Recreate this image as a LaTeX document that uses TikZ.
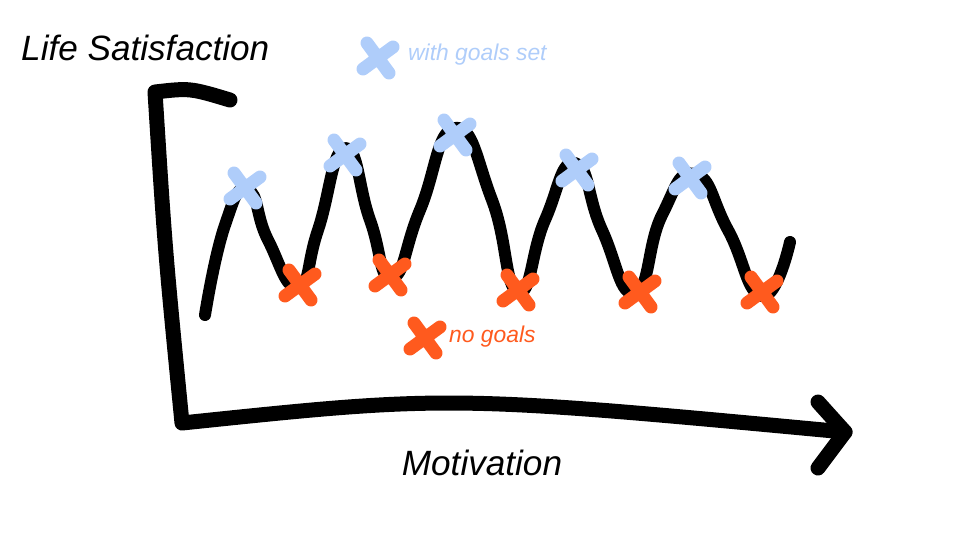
\documentclass[tikz,border=0pt]{standalone}
\usepackage{fontspec}
\setmainfont{Liberation Sans}
\definecolor{goalblue}{RGB}{175,205,250}
\definecolor{nogoal}{RGB}{255,90,30}
\newcommand{\markx}[4]{
  \coordinate (#1) at (#2,#3);
  \draw[line width=2.6mm, line cap=round, #4] ([shift={(-11,-15)}]#1)--([shift={(11,15)}]#1)
  ([shift={(15,-11)}]#1)--([shift={(-15,11)}]#1);
}
\begin{document}
\begin{tikzpicture}[x=0.2mm, y=-0.2mm]
  \useasboundingbox (0,0) rectangle (960,540);

  % Axes
  % ====
  \coordinate (org) at (182,423);
  \coordinate (ytop) at (155,92);
  \coordinate (ybar) at (230,100);
  \coordinate (xend) at (845,432);
  \draw[line width=3mm, line cap=round, line join=round]
  (ybar) .. controls (190,88) .. (ytop) .. controls (165,250) .. (org)
  .. controls (450,395) .. (xend);
  \draw[line width=3mm, line cap=round, line join=round]
  (818,402) -- (xend) -- (818,468);

  % Curve
  % =====
  \draw[line width=2.4mm, line cap=round, line join=round]
  plot[smooth, tension=0.9] coordinates {
    (205,315) (225,225) (248,190) (268,240) (298,287) (318,230)
    (345,148) (370,220) (392,278) (420,210) (455,128) (492,200)
    (518,292) (545,220) (575,163) (602,230) (635,293) (662,215)
    (695,174) (728,230) (762,296) (790,242)};

  % Marks
  % =====
  \markx{p1}{245}{188}{goalblue}
  \markx{p2}{345}{155}{goalblue}
  \markx{p3}{455}{135}{goalblue}
  \markx{p4}{577}{170}{goalblue}
  \markx{p5}{690}{178}{goalblue}
  \markx{lg}{378}{58}{goalblue}
  \markx{t1}{300}{285}{nogoal}
  \markx{t2}{390}{275}{nogoal}
  \markx{t3}{518}{290}{nogoal}
  \markx{t4}{640}{292}{nogoal}
  \markx{t5}{762}{292}{nogoal}
  \markx{ln}{425}{338}{nogoal}

  % Labels
  % ======
  \node[anchor=west, font=\fontsize{20}{22}\selectfont\itshape] (ylab) at (15,48) {Life Satisfaction};
  \node[anchor=west, text=goalblue, font=\fontsize{13}{15}\selectfont\itshape] (glab) at (402,55) {with goals set};
  \node[anchor=west, text=nogoal, font=\fontsize{13}{15}\selectfont\itshape] (nlab) at (443,337) {no goals};
  \node[font=\fontsize{20}{22}\selectfont\itshape] (xlab) at (482,463) {Motivation};
\end{tikzpicture}
\end{document}
